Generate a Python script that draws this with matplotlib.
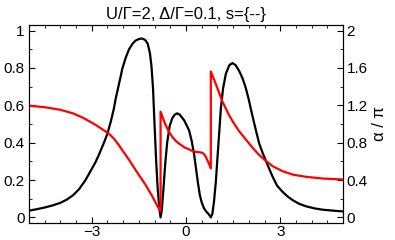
import matplotlib
matplotlib.use("Agg")
import matplotlib.pyplot as plt
from matplotlib.ticker import MultipleLocator

plt.rcParams['font.family'] = ['Liberation Sans', 'DejaVu Sans']

# black curve (left axis)
x_black = [-5.0, -4.75, -4.5, -4.25, -4.0, -3.8, -3.6, -3.4, -3.2, -3.05, -2.9, -2.8,
           -2.7, -2.6, -2.5, -2.4, -2.3, -2.24, -2.1, -2.03, -1.92, -1.82, -1.71, -1.61,
           -1.5, -1.4, -1.3, -1.22, -1.15, -1.1, -1.05, -1.0, -0.95, -0.9, -0.85, -0.81,
           -0.77, -0.72, -0.66, -0.6, -0.52, -0.44, -0.36, -0.28, -0.2, -0.12, -0.06,
           0.0, 0.1, 0.18, 0.26, 0.32, 0.38, 0.44, 0.5, 0.57, 0.64, 0.72, 0.79, 0.84,
           0.89, 0.95, 1.0, 1.06, 1.11, 1.18, 1.27, 1.38, 1.48, 1.58, 1.69, 1.8, 1.9,
           2.0, 2.12, 2.22, 2.33, 2.44, 2.54, 2.65, 2.76, 2.9, 3.08, 3.25, 3.4, 3.6,
           3.83, 4.1, 4.36, 4.7, 5.0]
y_black = [0.036, 0.044, 0.053, 0.064, 0.078, 0.095, 0.118, 0.152, 0.2, 0.245, 0.29, 0.325,
           0.365, 0.405, 0.45, 0.51, 0.58, 0.635, 0.74, 0.795, 0.855, 0.898, 0.928, 0.946,
           0.955, 0.958, 0.95, 0.93, 0.88, 0.81, 0.69, 0.49, 0.30, 0.15, 0.05, 0.0,
           0.04, 0.15, 0.29, 0.40, 0.49, 0.53, 0.55, 0.557, 0.55, 0.533, 0.52,
           0.50, 0.465, 0.41, 0.335, 0.26, 0.185, 0.12, 0.08, 0.05, 0.032, 0.018, 0.0, 0.02,
           0.083, 0.19, 0.315, 0.46, 0.584, 0.69, 0.77, 0.815, 0.826, 0.815, 0.785, 0.745, 0.695,
           0.63, 0.54, 0.47, 0.396, 0.345, 0.305, 0.26, 0.217, 0.17, 0.136, 0.11, 0.092, 0.073,
           0.059, 0.048, 0.041, 0.036, 0.032]

# red curve, alpha/pi (right axis)
x_red = [-5.0, -4.5, -4.0, -3.6, -3.3, -3.05, -2.85, -2.65, -2.47, -2.3, -2.15, -2.03,
         -1.8, -1.61, -1.45, -1.29, -1.08, -0.91, -0.81, -0.81, -0.72, -0.65, -0.55,
         -0.44, -0.33, -0.22, -0.05, 0.1, 0.2, 0.31, 0.42, 0.52, 0.58, 0.63, 0.7, 0.79,
         0.79, 0.9, 1.0, 1.16, 1.37, 1.5, 1.69, 1.9, 2.12, 2.33, 2.54, 2.76, 3.08, 3.4,
         3.83, 4.36, 5.0]
y_red = [1.196, 1.18, 1.152, 1.114, 1.07, 1.024, 0.985, 0.94, 0.90, 0.845, 0.78, 0.72,
         0.61, 0.51, 0.43, 0.35, 0.23, 0.12, 0.07, 1.132, 1.05, 0.99, 0.92,
         0.864, 0.82, 0.79, 0.75, 0.728, 0.712, 0.702, 0.698, 0.692, 0.676, 0.648, 0.60, 0.524,
         1.562, 1.47, 1.384, 1.24, 1.096, 1.02, 0.924, 0.836, 0.746, 0.668, 0.606, 0.548, 0.494, 0.458,
         0.434, 0.416, 0.406]

fig = plt.figure(figsize=(3.95, 2.4), dpi=100)
ax = fig.add_axes([0.0734, 0.0708, 0.795, 0.825])
ax.plot(x_black, y_black, color='black', lw=1.6)
ax.set_xlim(-5, 5)
ax.set_ylim(-0.03, 1.03)
ax.xaxis.set_major_locator(MultipleLocator(3))
ax.xaxis.set_minor_locator(MultipleLocator(0.5))
ax.yaxis.set_minor_locator(MultipleLocator(0.1))
ax.set_yticks([0, 0.2, 0.4, 0.6, 0.8, 1.0])
ax.set_yticklabels(['0', '0.2', '0.4', '0.6', '0.8', '1'])
ax.tick_params(which='both', direction='in', top=True, labelsize=11)
ax.tick_params(axis='y', pad=3)
ax.tick_params(axis='x', pad=1.5)
ax.tick_params(which='major', length=4)
ax.tick_params(which='minor', length=2.5)

ax2 = ax.twinx()
ax2.plot(x_red, y_red, color='red', lw=1.6)
ax2.set_ylim(-0.06, 2.06)
ax2.set_yticks([0, 0.4, 0.8, 1.2, 1.6, 2.0])
ax2.set_yticklabels(['0', '0.4', '0.8', '1.2', '1.6', '2'])
ax2.yaxis.set_minor_locator(MultipleLocator(0.2))
ax2.tick_params(which='both', direction='in', labelsize=11, pad=2.5)
ax2.tick_params(which='major', length=4)
ax2.tick_params(which='minor', length=2.5)
ax2.set_ylabel('α / π', fontsize=12, labelpad=3)

ax.set_title('U/Γ=2, Δ/Γ=0.1, s={--}', fontsize=12, pad=4)

fig.savefig('out.png', dpi=100)
